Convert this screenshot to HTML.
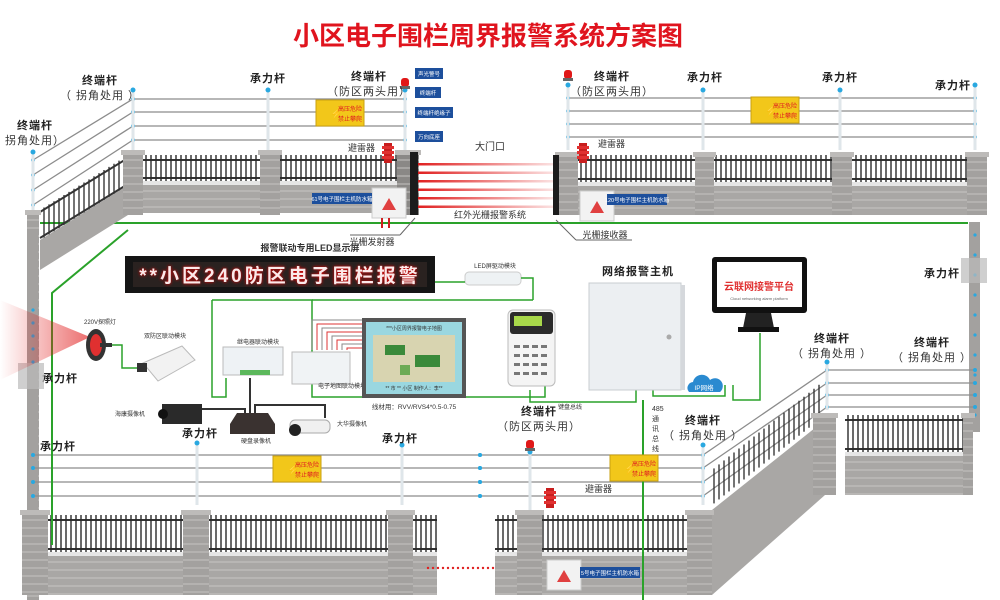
<!DOCTYPE html>
<html><head><meta charset="utf-8">
<style>
html,body{margin:0;padding:0;background:#fff;}
svg{display:block;}
text{font-family:"Liberation Sans","Noto Sans CJK SC",sans-serif;}
</style></head>
<body>
<svg id="s" width="1000" height="600" viewBox="0 0 1000 600" xmlns="http://www.w3.org/2000/svg">
<defs>
<linearGradient id="beam" x1="0" x2="1"><stop offset="0" stop-color="#e02020"/><stop offset="1" stop-color="#e02020" stop-opacity="0.1"/></linearGradient>
<linearGradient id="lamp" x1="1" x2="0"><stop offset="0" stop-color="#e01818" stop-opacity="0.9"/><stop offset="1" stop-color="#e01818" stop-opacity="0"/></linearGradient>
</defs>
<rect width="1000" height="600" fill="#fff"/>
<text x="488" y="45" font-size="26" font-weight="bold" fill="#e0141e" text-anchor="middle">小区电子围栏周界报警系统方案图</text>
<g id="g"></g>
</svg>
<script>
var g=document.getElementById('g'),h='';
function a(s){h+=s;}
function wall(x1,x2,yt,yb){
  var mid=yt+(yb-yt)*0.5;
  a('<rect x="'+x1+'" y="'+mid+'" width="'+(x2-x1)+'" height="'+(yb-mid)+'" fill="#a9a7a5"/>');
  a('<rect x="'+x1+'" y="'+(mid-3)+'" width="'+(x2-x1)+'" height="4" fill="#e6e6e6"/>');
  for(var y=mid+7;y<yb;y+=8)a('<line x1="'+x1+'" y1="'+y+'" x2="'+x2+'" y2="'+y+'" stroke="#c8c6c4" stroke-width="1"/>');
  a('<line x1="'+x1+'" y1="'+(yt+5)+'" x2="'+x2+'" y2="'+(yt+5)+'" stroke="#333" stroke-width="2"/>');
  a('<line x1="'+x1+'" y1="'+(mid-6)+'" x2="'+x2+'" y2="'+(mid-6)+'" stroke="#333" stroke-width="2"/>');
  for(var x=x1+3;x<x2;x+=5)a('<line x1="'+x+'" y1="'+yt+'" x2="'+x+'" y2="'+(mid-3)+'" stroke="#2a2a2a" stroke-width="1.4"/>');
}
function pillar(x,w,yt,yb,dark){
  a('<rect x="'+x+'" y="'+yt+'" width="'+w+'" height="'+(yb-yt)+'" fill="'+(dark?'#8a8886':'#a3a19f')+'"/>');
  a('<rect x="'+(x-2)+'" y="'+yt+'" width="'+(w+4)+'" height="5" fill="#bdbbb9"/>');
  for(var y=yt+10;y<yb;y+=8)a('<line x1="'+x+'" y1="'+y+'" x2="'+(x+w)+'" y2="'+y+'" stroke="#c4c2c0"/>');
}
function post(x,y1,y2){
  a('<line x1="'+x+'" y1="'+y1+'" x2="'+x+'" y2="'+y2+'" stroke="#dfe6ea" stroke-width="3"/>');
  a('<circle cx="'+x+'" cy="'+(y1)+'" r="2.5" fill="#29a8e0"/>');
}
function wires(x1,x2,ys,y2s){
  for(var i=0;i<ys.length;i++){var yb=y2s?y2s[i]:ys[i];
   a('<line x1="'+x1+'" y1="'+ys[i]+'" x2="'+x2+'" y2="'+yb+'" stroke="#8c8c8c" stroke-width="1.3"/>');
   a('<circle cx="'+x1+'" cy="'+ys[i]+'" r="2" fill="#29a8e0"/><circle cx="'+x2+'" cy="'+yb+'" r="2" fill="#29a8e0"/>');}
}
function lbl(x,y,t,sub){a('<text x="'+x+'" y="'+y+'" font-size="11" font-weight="bold" fill="#222" text-anchor="middle" letter-spacing="1">'+t+'</text>');
 if(sub)a('<text x="'+x+'" y="'+(y+15)+'" font-size="11" fill="#333" text-anchor="middle" letter-spacing="1">'+sub+'</text>');}
function sign(x,y){a('<rect x="'+x+'" y="'+y+'" width="48" height="26" fill="#f2c71a" stroke="#c9a010"/><text x="'+(x+14)+'" y="'+(y+17)+'" font-size="10" fill="#e02020">⚡</text><text x="'+(x+34)+'" y="'+(y+11)+'" font-size="6" fill="#e02020" text-anchor="middle">高压危险</text><text x="'+(x+34)+'" y="'+(y+21)+'" font-size="6" fill="#e02020" text-anchor="middle">禁止攀爬</text>');}
function tag(x,y,w,t){a('<rect x="'+x+'" y="'+y+'" width="'+w+'" height="11" fill="#1d4f9c"/><text x="'+(x+w/2)+'" y="'+(y+8)+'" font-size="5.5" fill="#fff" text-anchor="middle">'+t+'</text>');}
function box(x,y){a('<rect x="'+x+'" y="'+y+'" width="34" height="30" fill="#f2f2f2" stroke="#ccc"/><polygon points="'+(x+17)+','+(y+10)+' '+(x+10)+','+(y+22)+' '+(x+24)+','+(y+22)+'" fill="#e04040"/>');}
function beacon(x,y){a('<rect x="'+(x-4)+'" y="'+y+'" width="8" height="9" rx="3" fill="#e01818"/><rect x="'+(x-5)+'" y="'+(y+8)+'" width="10" height="3" fill="#666"/>');}
function arr(x,y){a('<g><rect x="'+(x-4)+'" y="'+y+'" width="8" height="20" fill="#c81e1e"/>'+[3,8,13].map(function(d){return '<rect x="'+(x-6)+'" y="'+(y+d)+'" width="12" height="3" fill="#e03030"/>'}).join('')+'</g>');}

a('<polyline points="40,223 968,223" fill="none" stroke="#2aa22a" stroke-width="2"/>');
a('<polyline points="128,230 52,293 52,545" fill="none" stroke="#2aa22a" stroke-width="2"/>');

wires(133,405,[99,112,126,140]);
wires(33,133,[160,175,190,205],[99,112,126,140]);
post(33,152,210);post(133,90,150);post(268,90,150);post(405,90,150);
a('<polygon points="40,240 128,185 128,215 40,270" fill="#a9a7a5"/>');
for(var i=0;i<18;i++){var x=44+i*5;var yy=240-(x-40)*55/88;a('<line x1="'+x+'" y1="'+(yy-30)+'" x2="'+x+'" y2="'+(yy)+'" stroke="#2a2a2a" stroke-width="1.3"/>');}
a('<line x1="40" y1="212" x2="128" y2="158" stroke="#333" stroke-width="2"/><line x1="40" y1="238" x2="128" y2="184" stroke="#333" stroke-width="2"/>');
pillar(27,12,210,600);
a('<rect x="27" y="230" width="11" height="280" fill="#a3a19f"/>');
wall(143,398,155,213);
pillar(123,20,150,215);pillar(260,20,150,215);pillar(397,22,150,215,1);
a('<rect x="410" y="152" width="8" height="63" fill="#1c1c1c"/>');
box(372,188);tag(312,193,60,'61号电子围栏主机防水箱');
a('<line x1="382" y1="218" x2="382" y2="228" stroke="#d02020" stroke-width="2"/><line x1="389" y1="218" x2="389" y2="228" stroke="#d02020" stroke-width="2"/>');
arr(388,143);
beacon(405,78);
tag(415,68,28,'声光警号');tag(415,87,26,'终端杆');tag(415,107,38,'终端杆绝缘子');tag(415,131,28,'万向底座');
a('<text x="375" y="151" font-size="9" fill="#333" text-anchor="end">避雷器</text>');
lbl(35,129,'终端杆','拐角处用）');lbl(100,84,'终端杆','（ 拐角处用 ）');lbl(268,82,'承力杆');lbl(369,80,'终端杆','（防区两头用）');
sign(316,100);
for(var i=0;i<6;i++)a('<rect x="418" y="'+(163+i*8.5)+'" width="140" height="2.5" fill="url(#beam)"/>');
a('<text x="490" y="150" font-size="10" fill="#333" text-anchor="middle">大门口</text>');
a('<text x="490" y="218" font-size="9" fill="#333" text-anchor="middle">红外光栅报警系统</text>');
a('<line x1="415" y1="218" x2="400" y2="235" stroke="#666"/><line x1="400" y1="235" x2="350" y2="235" stroke="#666"/><text x="372" y="245" font-size="9" fill="#333" text-anchor="middle">光栅发射器</text>');

wires(568,975,[98,111,124,137]);
post(568,85,150);post(703,90,150);post(840,90,150);post(975,85,150);
beacon(568,70);
wall(578,967,155,215);
pillar(557,21,152,215);pillar(695,19,152,215);pillar(832,20,152,215);pillar(967,20,152,215);
a('<rect x="553" y="155" width="6" height="60" fill="#1c1c1c"/>');
box(580,191);tag(607,194,60,'120号电子围栏主机防水箱');
arr(583,143);
a('<text x="598" y="147" font-size="9" fill="#333">避雷器</text>');
a('<line x1="556" y1="220" x2="576" y2="240" stroke="#666"/><line x1="576" y1="240" x2="632" y2="240" stroke="#666"/><text x="605" y="238" font-size="9" fill="#333" text-anchor="middle">光栅接收器</text>');
lbl(612,80,'终端杆','（防区两头用）');lbl(705,81,'承力杆');lbl(840,81,'承力杆');lbl(953,89,'承力杆');
sign(751,97);

a('<rect x="969" y="222" width="11" height="210" fill="#a3a19f"/>');
for(var y=235;y<420;y+=20)a('<circle cx="975" cy="'+y+'" r="1.6" fill="#29a8e0"/>');
a('<rect x="961" y="258" width="26" height="25" fill="#bbb" opacity="0.7"/>');
lbl(942,277,'承力杆');lbl(832,342,'终端杆','（ 拐角处用 ）');lbl(932,346,'终端杆','（ 拐角处用 ）');

wires(827,975,[370,383,395,407]);
wires(703,827,[455,468,482,496],[370,383,395,407]);
wires(480,703,[455,468,482,496]);
post(530,452,510);post(703,445,505);post(827,362,410);
beacon(530,440);
a('<polygon points="712,510 825,420 825,495 712,595" fill="#a9a7a5"/>');
for(var i=0;i<22;i++){var x=714+i*5;var yy=510-(x-712)*90/113;a('<line x1="'+x+'" y1="'+(yy-40)+'" x2="'+x+'" y2="'+(yy-5)+'" stroke="#2a2a2a" stroke-width="1.3"/>');}
wall(845,967,415,495);
pillar(813,23,413,495);pillar(963,10,413,495);
wall(495,712,515,595);
pillar(517,25,510,595);pillar(687,25,510,595);
a('<line x1="643" y1="400" x2="643" y2="600" stroke="#2aa22a" stroke-width="2"/>');
box(547,560);tag(580,567,60,'5号电子围栏主机防水箱');
arr(550,488);a('<text x="585" y="492" font-size="9" fill="#333">避雷器</text>');
lbl(539,415,'终端杆','（防区两头用）');lbl(703,424,'终端杆','（ 拐角处用 ）');
sign(610,455);
a('<text x="652" y="411" font-size="7" fill="#333">485</text><text x="652" y="421" font-size="7" fill="#333">通</text><text x="652" y="431" font-size="7" fill="#333">讯</text><text x="652" y="441" font-size="7" fill="#333">总</text><text x="652" y="451" font-size="7" fill="#333">线</text>');

wires(33,480,[455,468,482,496]);
post(197,443,505);post(402,445,505);
wall(48,437,515,595);
pillar(22,26,510,595);pillar(183,26,510,595);pillar(388,25,510,595);
a('<line x1="52" y1="300" x2="52" y2="545" stroke="#2aa22a" stroke-width="2"/>');
for(var x=428;x<495;x+=5)a('<circle cx="'+x+'" cy="568" r="1.2" fill="#e02020"/>');
sign(273,456);
lbl(58,450,'承力杆');lbl(200,437,'承力杆');lbl(400,442,'承力杆');lbl(60,382,'承力杆');
a('<rect x="18" y="363" width="26" height="26" fill="#bbb" opacity="0.7"/>');
for(var y=310;y<370;y+=13)a('<circle cx="33" cy="'+y+'" r="1.6" fill="#29a8e0"/>');

a('<text x="310" y="251" font-size="9" font-weight="bold" fill="#333" text-anchor="middle">报警联动专用LED显示屏</text>');
a('<rect x="125" y="256" width="310" height="37" fill="#151515"/><rect x="133" y="262" width="294" height="25" fill="#2a2220"/>');
a('<text x="280" y="282" font-size="19" font-weight="bold" fill="#fbeaea" text-anchor="middle" letter-spacing="3" style="text-shadow:0 0 3px #f00">**小区240防区电子围栏报警</text>');
a('<text x="495" y="268" font-size="6" fill="#333" text-anchor="middle">LED屏驱动模块</text><rect x="465" y="272" width="56" height="13" rx="4" fill="#eef2f4" stroke="#ccc"/>');
a('<polyline points="435,282 465,282" fill="none" stroke="#2aa22a" stroke-width="1.5"/><polyline points="521,278 533,278 533,300" fill="none" stroke="#2aa22a" stroke-width="1.5"/>');
a('<polyline points="312,300 533,300" fill="none" stroke="#2aa22a" stroke-width="1.5"/><polyline points="212,300 212,397 226,397 226,378" fill="none" stroke="#2aa22a" stroke-width="1.5"/>');
a('<polyline points="212,300 312,300 312,397 545,397 545,385" fill="none" stroke="#2aa22a" stroke-width="1.5"/>');
a('<polyline points="530,390 530,402 636,402 636,390" fill="none" stroke="#2aa22a" stroke-width="1.5"/><polyline points="653,390 653,396 725,396 725,385" fill="none" stroke="#2aa22a" stroke-width="1.5"/><polyline points="733,385 733,400 760,400 760,333" fill="none" stroke="#2aa22a" stroke-width="1.5"/>');
a('<text x="570" y="409" font-size="6" fill="#333" text-anchor="middle">键盘总线</text>');
a('<text x="258" y="344" font-size="6" fill="#333" text-anchor="middle">继电器联动模块</text><rect x="223" y="347" width="60" height="28" fill="#eef2f5" stroke="#bbb"/><rect x="240" y="370" width="30" height="5" fill="#5cb85c"/>');
a('<rect x="292" y="352" width="58" height="32" fill="#f0f3f5" stroke="#bbb"/><text x="342" y="388" font-size="6" fill="#333" text-anchor="middle">电子地图联动模块</text>');
for(var i=0;i<8;i++)a('<polyline points="'+(312+i*5)+','+(350)+' '+(312+i*5)+','+(320+i*4)+' 362,'+(320+i*4)+'" fill="none" stroke="'+(i%2?'#d33':'#888')+'" stroke-width="1"/>');
a('<rect x="362" y="318" width="104" height="80" fill="#555"/><rect x="366" y="322" width="96" height="72" fill="#9ad7e0"/><rect x="373" y="335" width="82" height="47" fill="#d8d4b0"/>');
a('<rect x="385" y="345" width="20" height="10" fill="#3a8a3a"/><rect x="415" y="355" width="25" height="12" fill="#3a8a3a"/><rect x="400" y="365" width="10" height="10" fill="#6cab55"/>');
a('<text x="414" y="330" font-size="5" fill="#333" text-anchor="middle">***小区周界报警电子地图</text><text x="414" y="390" font-size="5" fill="#333" text-anchor="middle">** 市 ** 小区     制作人：李**</text>');
a('<text x="414" y="409" font-size="6.5" fill="#333" text-anchor="middle">线材用：RVV/RVS4*0.5-0.75</text>');
a('<rect x="508" y="310" width="47" height="76" rx="5" fill="#f4f4f4" stroke="#bbb"/><rect x="510" y="312" width="43" height="22" rx="3" fill="#2b2b2b"/><rect x="514" y="316" width="28" height="10" fill="#a8d84a"/>');
for(var r=0;r<4;r++)for(var c=0;c<4;c++)a('<rect x="'+(514+c*9)+'" y="'+(345+r*9)+'" width="6" height="3" fill="#777"/>');
a('<text x="638" y="275" font-size="11" font-weight="bold" fill="#222" text-anchor="middle" letter-spacing="1">网络报警主机</text>');
a('<rect x="589" y="283" width="92" height="107" fill="#eceff2" stroke="#c8ccd0"/><rect x="681" y="285" width="4" height="105" fill="#d5d8dc"/><circle cx="669" cy="337" r="2.5" fill="#aaa"/>');
a('<rect x="712" y="257" width="95" height="56" rx="3" fill="#111"/><rect x="717" y="262" width="85" height="45" fill="#fff"/><text x="759" y="290" font-size="10" font-weight="bold" fill="#e03030" text-anchor="middle">云联网接警平台</text><text x="759" y="300" font-size="4" fill="#666" text-anchor="middle">Cloud networking alarm platform</text>');
a('<polygon points="746,313 771,313 774,328 743,328" fill="#222"/><rect x="738" y="327" width="41" height="5" fill="#111"/>');
a('<path d="M689,392 a6,6 0 0 1 4,-10 a9,9 0 0 1 17,-2 a7,7 0 0 1 10,12 z" fill="#2a8ad0"/><text x="704" y="390" font-size="6.5" fill="#fff" text-anchor="middle">IP网络</text>');
a('<polygon points="90,337 0,300 0,380" fill="url(#lamp)" opacity="0.7"/>');
a('<ellipse cx="96" cy="345" rx="10" ry="16" fill="#333"/><ellipse cx="96" cy="345" rx="6" ry="11" fill="#e03030"/><rect x="100" y="343" width="12" height="4" fill="#333"/>');
a('<text x="100" y="324" font-size="6" fill="#333" text-anchor="middle">220V探照灯</text>');
a('<text x="165" y="338" font-size="6" fill="#333" text-anchor="middle">双防区联动模块</text><polygon points="143,363 182,346 195,360 158,381" fill="#f2f2f2" stroke="#bbb"/><rect x="137" y="363" width="10" height="9" fill="#333"/>');
a('<polyline points="112,345 122,345 122,368 137,368" fill="none" stroke="#2aa22a" stroke-width="1.5"/>');
a('<text x="130" y="416" font-size="6" fill="#333" text-anchor="middle">海康摄像机</text><rect x="162" y="404" width="40" height="20" fill="#2a2a2a"/><circle cx="163" cy="414" r="5" fill="#111"/>');
a('<polyline points="202,409 245,409 245,414" fill="none" stroke="#333" stroke-width="2"/><line x1="250" y1="378" x2="250" y2="413" stroke="#333" stroke-width="2"/><polyline points="255,413 255,405 325,405 325,418" fill="none" stroke="#333" stroke-width="2"/>');
a('<polygon points="237,413 268,413 275,424 275,434 230,434 230,424" fill="#3a3230"/><text x="256" y="443" font-size="6" fill="#333" text-anchor="middle">硬盘录像机</text>');
a('<rect x="290" y="420" width="40" height="13" rx="5" fill="#f0f0f0" stroke="#aaa"/><circle cx="295" cy="430" r="6" fill="#222"/><text x="352" y="426" font-size="6" fill="#333" text-anchor="middle">大华摄像机</text>');
g.innerHTML=h;
</script>
</body></html>
